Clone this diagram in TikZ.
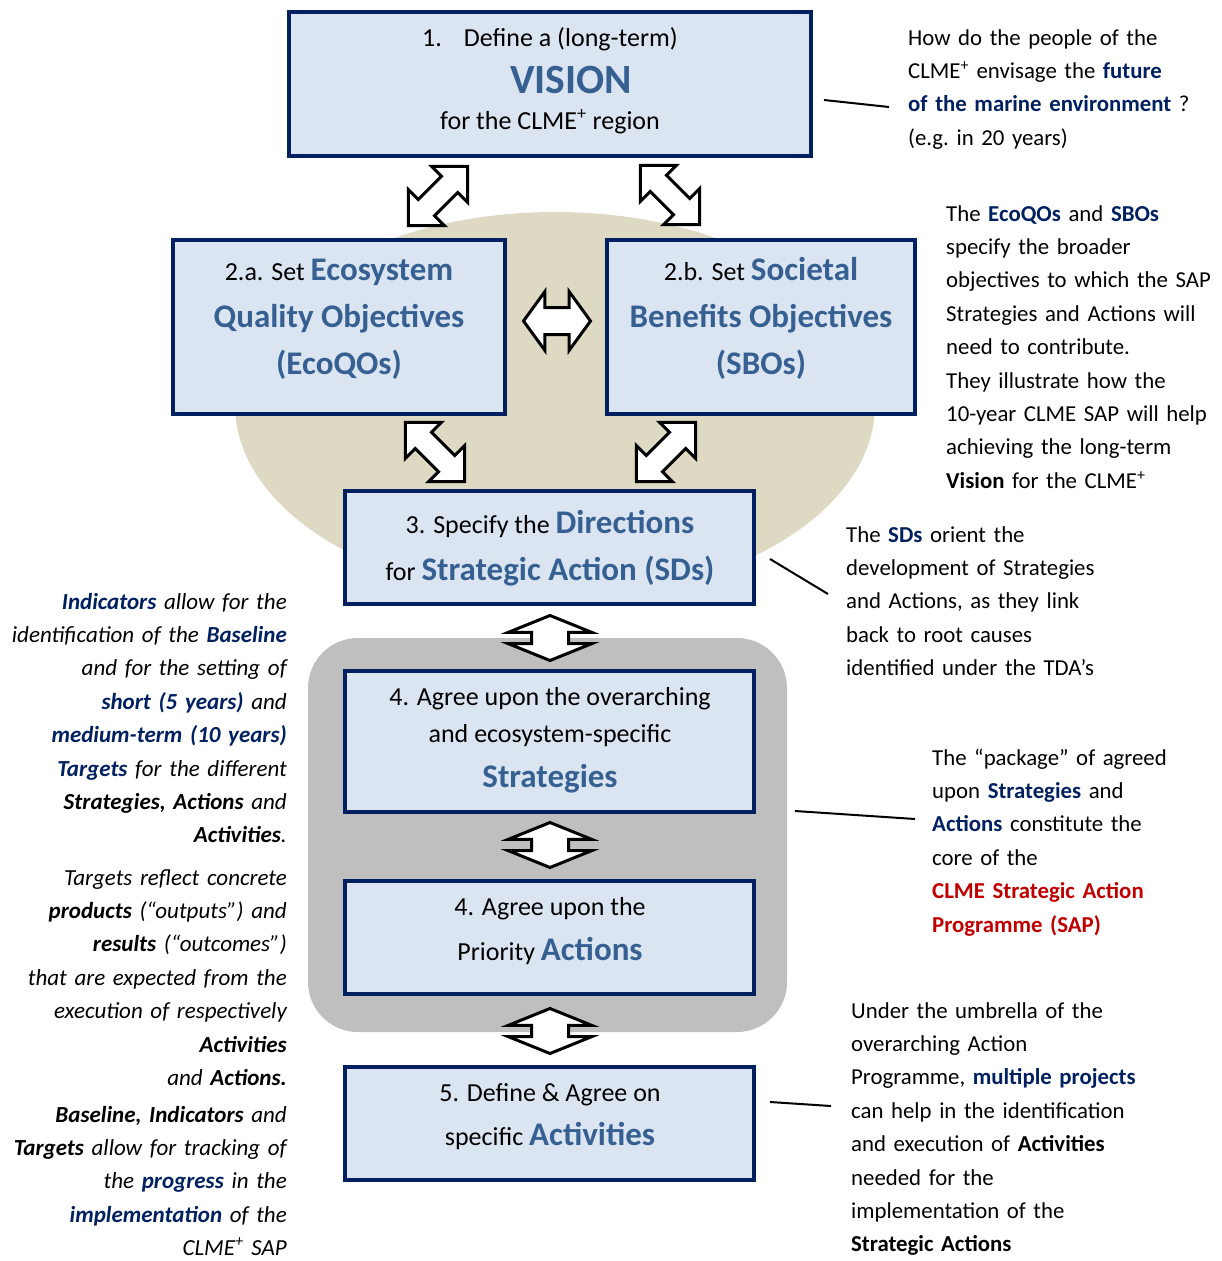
\documentclass[tikz,border=0pt]{standalone}
\usepackage{fontspec}
\setmainfont{Carlito}
\usetikzlibrary{shapes.arrows}
\definecolor{navy}{HTML}{002060}
\definecolor{hblue}{HTML}{366092}
\definecolor{boxfill}{HTML}{DBE5F1}
\definecolor{beige}{HTML}{DDD9C3}
\definecolor{grayarea}{HTML}{BFBFBF}
\definecolor{sapred}{HTML}{C00000}
\newcommand{\navyb}[1]{\textbf{\color{navy}#1}}
\newcommand{\hdg}[1]{{\fontsize{33}{47}\selectfont\bfseries\color{hblue}#1}}
\newcommand{\redb}[1]{\textbf{\color{sapred}#1}}
\begin{document}
\begin{tikzpicture}[x=1pt,y=-1pt,
  box/.style={draw=navy, line width=4pt, fill=boxfill, inner sep=0pt},
  dbl/.style={double arrow, draw=black, fill=white, line width=3pt, inner xsep=0pt, minimum width=0pt, double arrow head indent=0pt},
  diag/.style={dbl, inner ysep=10pt, double arrow head extend=14pt, double arrow tip angle=90, minimum height=84pt},
  vert/.style={dbl, rotate=90, inner ysep=17pt, double arrow head extend=23pt, double arrow tip angle=136, minimum height=45pt},
  body/.style={font=\fontsize{22.8}{33.4}\selectfont, inner sep=0pt},
  para/.style={body, text width=300pt, align=left, anchor=base west},
  lpara/.style={font=\fontsize{23}{33.4}\selectfont\itshape, inner sep=0pt, text width=300pt, align=right, anchor=base east},
  btext/.style={font=\fontsize{26}{33}\selectfont, inner sep=0pt, anchor=base},
  leader/.style={line width=2pt, black}]
\useasboundingbox (0,0) rectangle (1222,1261);
% background shapes
\fill[beige] (555,405) ellipse [x radius=320pt, y radius=193pt];
\node[fill=grayarea, rounded corners=50pt, minimum width=479pt, minimum height=394pt, inner sep=0pt] (core) at (547.5,835) {};
% boxes
\node[box, minimum width=522pt, minimum height=144pt] (b1) at (550,84) {};
\node[box, minimum width=332pt, minimum height=174pt] (b2a) at (339,327) {};
\node[box, minimum width=308pt, minimum height=174pt] (b2b) at (761,327) {};
\node[box, minimum width=409pt, minimum height=113pt] (b3) at (549.5,547.5) {};
\node[box, minimum width=409pt, minimum height=141pt] (b4a) at (549.5,741.5) {};
\node[box, minimum width=409pt, minimum height=113pt] (b4b) at (549.5,937.5) {};
\node[box, minimum width=409pt, minimum height=113pt] (b5) at (549.5,1123.5) {};
% box arrows
\node[diag, rotate=45] (a1) at (438,196) {};
\node[diag, rotate=-45] (a2) at (670,195) {};
\node[diag, rotate=-45] (a3) at (435,452) {};
\node[diag, rotate=45] (a4) at (666,452) {};
\node[dbl, inner ysep=12pt, double arrow head extend=16pt, double arrow tip angle=108, minimum height=67pt] (ah) at (557,321) {};
\node[vert] (av1) at (550,638) {};
\node[vert] (av2) at (550,845) {};
\node[vert] (av3) at (550,1031) {};
% box texts
\node[btext] (t1a) at (550,46) {1.\hspace{22pt}Define a (long-term)};
\node[btext, font=\fontsize{41.6}{50}\selectfont\bfseries, text=hblue] (t1b) at (571,93) {VISION};
\node[btext] (t1c) at (550,129) {for the CLME\textsuperscript{+} region};
\node[btext] (t2a1) at (339,280) {2.a. Set \hdg{Ecosystem}};
\node[btext] (t2a2) at (339,327) {\hdg{Quality Objectives}};
\node[btext] (t2a3) at (339,374) {\hdg{(EcoQOs)}};
\node[btext] (t2b1) at (761,280) {2.b. Set \hdg{Societal}};
\node[btext] (t2b2) at (761,327) {\hdg{Benefits Objectives}};
\node[btext] (t2b3) at (761,374) {\hdg{(SBOs)}};
\node[btext] (t31) at (550,533) {3. Specify the \hdg{Directions}};
\node[btext] (t32) at (550,580) {for \hdg{Strategic Action (SDs)}};
\node[btext] (t41) at (550,705) {4. Agree upon the overarching};
\node[btext] (t42) at (550,742) {and ecosystem-specific};
\node[btext] (t43) at (550,787) {\hdg{Strategies}};
\node[btext] (t44) at (550,915) {4. Agree upon the};
\node[btext] (t45) at (550,960) {Priority \hdg{Actions}};
\node[btext] (t51) at (550,1101) {5. Define \& Agree on};
\node[btext] (t52) at (550,1145) {specific \hdg{Activities}};
% leader lines
\coordinate (l1a) at (824,100); \coordinate (l1b) at (889,107);
\coordinate (l2a) at (770,559); \coordinate (l2b) at (828,594);
\coordinate (l3a) at (795,811); \coordinate (l3b) at (915,819);
\coordinate (l4a) at (770,1102); \coordinate (l4b) at (831,1106);
\draw[leader] (l1a) -- (l1b);
\draw[leader] (l2a) -- (l2b);
\draw[leader] (l3a) -- (l3b);
\draw[leader] (l4a) -- (l4b);
% right texts
\node[para] (r1) at (908,45) {How do the people of the\\
CLME\textsuperscript{+} envisage the \navyb{future}\\
\navyb{of the marine environment} ?\\
(e.g.\ in 20 years)};
\node[para] (r2) at (946,221) {The \navyb{EcoQOs} and \navyb{SBOs}\\
specify the broader\\
objectives to which the SAP\\
Strategies and Actions will\\
need to contribute.\\
They illustrate how the\\
10-year CLME SAP will help\\
achieving the long-term\\
\textbf{Vision} for the CLME\textsuperscript{+}};
\node[para] (r3) at (846,542) {The \navyb{SDs} orient the\\
development of Strategies\\
and Actions, as they link\\
back to root causes\\
identified under the TDA’s};
\node[para] (r4) at (932,765) {The “package” of agreed\\
upon \navyb{Strategies} and\\
\navyb{Actions} constitute the\\
core of the\\
\redb{CLME Strategic Action}\\
\redb{Programme (SAP)}};
\node[para] (r5) at (851,1018) {Under the umbrella of the\\
overarching Action\\
Programme, \navyb{multiple projects}\\
can help in the identification\\
and execution of \textbf{Activities}\\
needed for the\\
implementation of the\\
\textbf{Strategic Actions}};
% left texts
\node[lpara] (p1) at (287,609) {\navyb{Indicators} allow for the\\
identification of the \navyb{Baseline}\\
and for the setting of\\
\navyb{short (5 years)} and\\
\navyb{medium-term (10 years)}\\
\navyb{Targets} for the different\\
\textbf{Strategies, Actions} and\\
\textbf{Activities}.};
\node[lpara] (p2) at (287,885) {Targets reflect concrete\\
\textbf{products} (“outputs”) and\\
\textbf{results} (“outcomes”)\\
that are expected from the\\
execution of respectively\\
\textbf{Activities}\\
and \textbf{Actions.}};
\node[lpara] (p3) at (287,1122) {\textbf{Baseline, Indicators} and\\
\textbf{Targets} allow for tracking of\\
the \navyb{progress} in the\\
\navyb{implementation} of the\\
CLME\textsuperscript{+} SAP};
\end{tikzpicture}
\end{document}
